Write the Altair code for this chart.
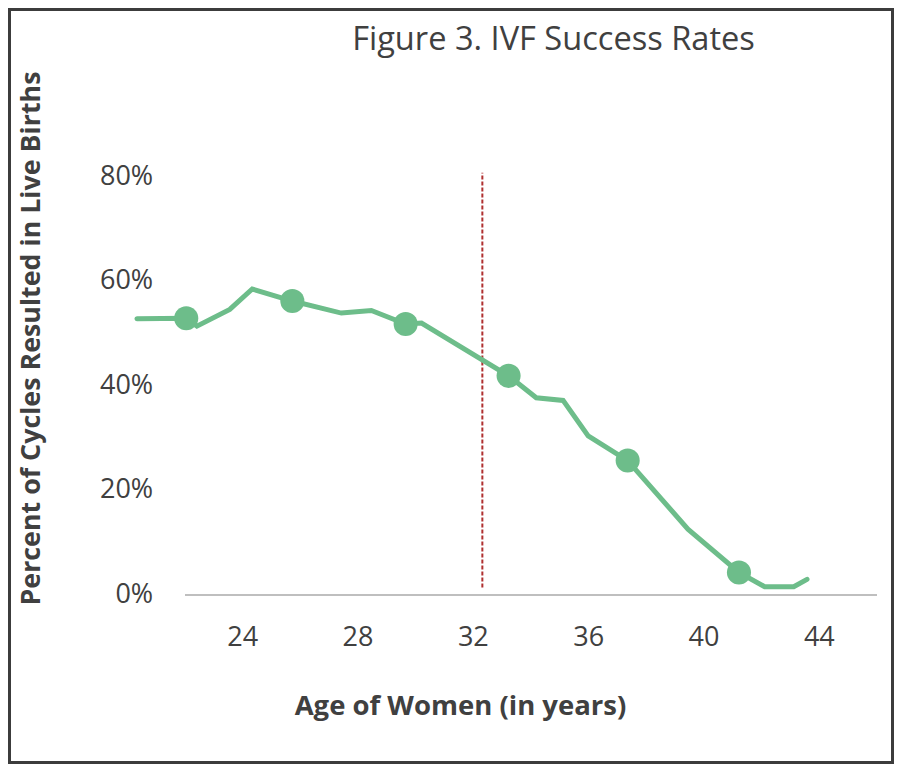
import altair as alt
import pandas as pd

# Line series (age in years, share of cycles resulting in live births)
line_age = [20.35, 22.06, 22.43, 23.57, 24.35, 25.74, 27.44, 28.48, 29.67, 30.22,
            33.24, 34.20, 35.13, 36.00, 37.37, 39.46, 41.23, 42.12, 43.13, 43.59]
line_pct = [0.527, 0.528, 0.513, 0.545, 0.584, 0.561, 0.538, 0.543, 0.517, 0.519,
            0.418, 0.376, 0.371, 0.303, 0.256, 0.125, 0.042, 0.015, 0.015, 0.029]

# Highlighted points
marker_age = [22.06, 25.74, 29.67, 33.24, 37.37, 41.23]
marker_pct = [0.528, 0.561, 0.517, 0.418, 0.256, 0.042]

# Reference (dashed) line
ref_age = [32.33, 32.33]
ref_pct = [0.0135, 0.806]

x_ticks = [24, 28, 32, 36, 40, 44]
y_ticks = [0, 0.2, 0.4, 0.6, 0.8]

title_text = "Figure 3. IVF Success Rates"
x_title = "Age of Women (in years)"
y_title = "Percent of Cycles Resulted in Live Births"

GREEN = "#6dbd8a"
TEXT = "#404040"
FONT = "Open Sans"

W, H = 692, 418.5

line_df = pd.DataFrame({"age": line_age, "pct": line_pct, "order": list(range(len(line_age)))})
marker_df = pd.DataFrame({"age": marker_age, "pct": marker_pct})
ref_df = pd.DataFrame({"age": ref_age, "pct": ref_pct})
one_df = pd.DataFrame({"t": [title_text]})

x_enc = alt.X(
    "age:Q",
    scale=alt.Scale(domain=[22, 46], nice=False, zero=False),
    axis=alt.Axis(
        values=x_ticks, format="d", grid=False, ticks=False,
        domain=True, domainColor="#bfbfbf", domainWidth=2,
        labelFont=FONT, labelFontSize=27, labelColor=TEXT, labelPadding=30,
        title=x_title, titleFont=FONT, titleFontSize=27.5, titleFontWeight="bold",
        titleColor=TEXT, titleX=275.5, titleY=111.5, titleBaseline="middle",
        titleAlign="center",
    ),
)
y_enc = alt.Y(
    "pct:Q",
    scale=alt.Scale(domain=[0, 0.8], nice=False),
    axis=alt.Axis(
        values=y_ticks, format=".0%", grid=False, ticks=False, domain=False,
        labelFont=FONT, labelFontSize=27, labelColor=TEXT, labelPadding=31.8,
        title=y_title, titleFont=FONT, titleFontSize=26.8, titleFontWeight="bold",
        titleColor=TEXT, titleX=-153.5, titleY=162, titleAngle=270,
        titleBaseline="middle", titleAlign="center",
    ),
)

line = alt.Chart(line_df).mark_line(color=GREEN, strokeWidth=5, strokeCap="round").encode(
    x=x_enc, y=y_enc, order="order:Q"
)
points = alt.Chart(marker_df).mark_point(
    filled=True, color=GREEN, size=580, opacity=1, shape="circle"
).encode(x="age:Q", y="pct:Q")
ref = alt.Chart(ref_df).mark_line(color="#b03030", strokeWidth=2, strokeDash=[4, 2]).encode(
    x="age:Q", y="pct:Q"
)
title = alt.Chart(one_df).mark_text(
    font=FONT, fontSize=32.6, color=TEXT, align="center", baseline="middle"
).encode(text="t:N", x=alt.value(369), y=alt.value(-136))
frame = alt.Chart(one_df).mark_rect(
    fillOpacity=0, stroke="#3c3c3c", strokeWidth=3
).encode(x=alt.value(-175), x2=alt.value(708), y=alt.value(-166.5), y2=alt.value(586.5))

chart = alt.layer(ref, line, points, title, frame).properties(
    width=W, height=H,
    autosize=alt.AutoSizeParams(type="none"),
    padding={"left": 176.5, "top": 168, "right": 17.5, "bottom": 169.5},
    background="white",
).configure_view(stroke=None)

chart.save("out.html", embed_options={"renderer": "svg", "actions": False})
